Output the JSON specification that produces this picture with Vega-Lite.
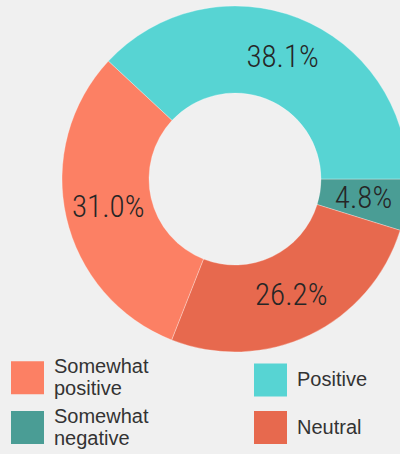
{
  "$schema": "https://vega.github.io/schema/vega-lite/v6.json",
  "autosize": "none",
  "width": 330,
  "height": 358,
  "padding": {"left": 70, "top": 0, "right": 0, "bottom": 96},
  "background": "#f0f0f0",
  "data": {"values": [
    {"category": "Somewhat negative", "value": 4.8, "o": 1, "label": "4.8%"},
    {"category": "Neutral", "value": 26.2, "o": 2, "label": "26.2%"},
    {"category": "Somewhat positive", "value": 31.0, "o": 3, "label": "31.0%"},
    {"category": "Positive", "value": 38.1, "o": 4, "label": "38.1%"}
  ]},
  "encoding": {
    "theta": {"field": "value", "type": "quantitative", "stack": true, "scale": {"range": [1.5707963, 7.8539816]}},
    "order": {"field": "o", "type": "quantitative"}
  },
  "layer": [
    {
      "mark": {"type": "arc", "innerRadius": 86, "outerRadius": 173, "stroke": "#ffffff", "strokeWidth": 0.5, "strokeOpacity": 0.6},
      "encoding": {
        "color": {
          "field": "category", "type": "nominal",
          "scale": {
            "domain": ["Somewhat positive", "Somewhat negative", "Positive", "Neutral"],
            "range": ["#fc8064", "#4a9d95", "#57d4d3", "#e7694e"]
          },
          "legend": {
            "orient": "none", "legendX": -59, "legendY": 361, "columns": 2, "title": null,
            "symbolType": "square", "symbolSize": 1089, "symbolStrokeWidth": 0, "symbolOpacity": 1,
            "labelFont": "Liberation Sans", "labelFontSize": 20, "labelColor": "#333333",
            "labelExpr": "split(datum.label, ' ')", "labelOffset": 10, "labelLimit": 200,
            "labelBaseline": {"expr": "indexof(datum.label, ' ') > 0 ? 'line-bottom' : 'middle'"},
            "rowPadding": 7, "columnPadding": 105
          }
        }
      }
    },
    {
      "mark": {"type": "text", "radius": 130, "font": "Roboto Condensed, Liberation Sans Narrow, DejaVu Sans Condensed, Roboto", "fontWeight": 300, "fontSize": 31, "color": "#262626"},
      "encoding": {"text": {"field": "label", "type": "nominal"}}
    }
  ],
  "config": {"view": {"stroke": null}, "text": {"lineHeight": 20}}
}
